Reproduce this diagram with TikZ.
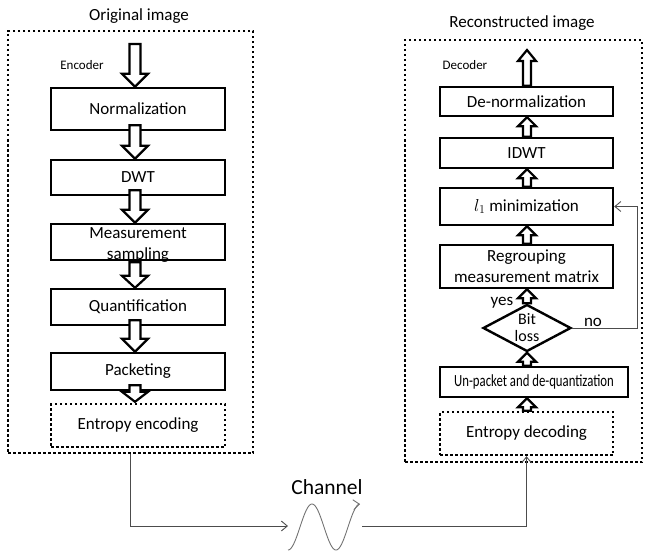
\documentclass[tikz,border=0pt]{standalone}
\usepackage{fontspec}
\setmainfont{Carlito}
\usetikzlibrary{calc,arrows.meta,shapes.geometric}
\newcommand{\downarr}[5]{%
  \draw[blockarr] let \p1=#1, \p2=#2 in
    (\x1-#3pt,\y1) -- (\x1-#3pt,\y2+#5pt) -- (\x1-#4pt,\y2+#5pt) -- (\x1,\y2)
    -- (\x1+#4pt,\y2+#5pt) -- (\x1+#3pt,\y2+#5pt) -- (\x1+#3pt,\y1) -- cycle;}
\newcommand{\uparr}[5]{%
  \draw[blockarr] let \p1=#1, \p2=#2 in
    (\x1-#3pt,\y1) -- (\x1-#3pt,\y2-#5pt) -- (\x1-#4pt,\y2-#5pt) -- (\x1,\y2)
    -- (\x1+#4pt,\y2-#5pt) -- (\x1+#3pt,\y2-#5pt) -- (\x1+#3pt,\y1) -- cycle;}
\tikzset{
  txt/.style={font=\fontsize{17}{20}\selectfont, inner sep=0pt},
  box/.style={draw, line width=2.4pt, inner sep=0pt, font=\fontsize{17}{20}\selectfont, align=center},
  dotbox/.style={draw, line width=2.4pt, dash pattern=on 2.5pt off 2.5pt, inner sep=0pt, font=\fontsize{17}{20}\selectfont},
  frame/.style={draw, line width=2.5pt, dash pattern=on 2.5pt off 2.5pt, inner sep=0pt},
  blockarr/.style={draw, line width=2.2pt, fill=white, line join=miter},
  conn/.style={draw=black!70, line width=0.9pt},
  tip/.style={-{Straight Barb[length=6pt,width=10pt]}},
}
\begin{document}
\begin{tikzpicture}[x=1pt,y=-1pt]
\useasboundingbox (0,0) rectangle (645,551);
% frames
\node[frame, minimum width=245pt, minimum height=422pt] (encframe) at (130.5,242) {};
\node[frame, minimum width=237pt, minimum height=422pt] (decframe) at (523.5,251) {};
\node[txt] (enctitle) at (139,16) {Original image};
\node[txt] (dectitle) at (522,23) {Reconstructed image};
\node[txt, font=\fontsize{13}{15}\selectfont] (enclabel) at (82,65) {Encoder};
\node[txt, font=\fontsize{13}{15}\selectfont] (declabel) at (465,65) {Decoder};
% encoder boxes
\node[box, minimum width=174pt, minimum height=42pt] (norm) at (138,109) {Normalization};
\node[box, minimum width=174pt, minimum height=35pt] (dwt) at (138,177.5) {DWT};
\node[box, minimum width=174pt, minimum height=36pt] (meas) at (138,242) {};
\node[box, minimum width=174pt, minimum height=36pt] (quant) at (138,307) {Quantification};
\node[box, minimum width=174pt, minimum height=37pt] (pack) at (138,371.5) {Packeting};
\node[dotbox, minimum width=174pt, minimum height=43pt] (entenc) at (138,425.5) {Entropy encoding};
\coordinate (enctop) at (135,44);
% encoder arrows
\downarr{(enctop)}{($(norm.north)+(-3,0)$)}{5.5}{13}{13}
\downarr{($(norm.south)+(-3,-6)$)}{($(dwt.north)+(-3,0)$)}{5.5}{13}{13}
\downarr{($(dwt.south)+(-3,-6)$)}{($(meas.north)+(-3,0)$)}{5.5}{13}{13}
\downarr{($(meas.south)+(-3,1)$)}{($(quant.north)+(-3,0)$)}{5.5}{13}{12}
\downarr{($(quant.south)+(-3,-6)$)}{($(pack.north)+(-3,0)$)}{5.5}{13}{13}
\downarr{($(pack.south)+(-3,-6)$)}{($(entenc.north)+(-3,-1)$)}{5.5}{13}{10}
\node[txt, align=center, font=\fontsize{17}{21}\selectfont] (meastext) at (138,245) {Measurement\\sampling};
% decoder boxes
\node[box, minimum width=173pt, minimum height=29pt] (denorm) at (526.5,101.5) {De-normalization};
\node[box, minimum width=173pt, minimum height=30pt] (idwt) at (526.5,153) {IDWT};
\node[box, minimum width=173pt, minimum height=37pt] (l1) at (526.5,206.5) {$l_1$ minimization};
\node[box, minimum width=173pt, minimum height=43pt, font=\fontsize{17}{21}\selectfont] (regroup) at (526.5,266.5) {Regrouping\\measurement matrix};
\node[diamond, draw, line width=2.4pt, inner sep=0pt, minimum width=88pt, minimum height=47pt] (bit) at (527,328) {};
\node[txt, align=center, font=\fontsize{16}{17}\selectfont] (bittext) at (bit) {Bit\\loss};
\node[box, minimum width=188pt, minimum height=30pt] (unpack) at (534,382) {\scalebox{0.75}[1]{Un-packet and de-quantization}};
\node[dotbox, minimum width=173pt, minimum height=43pt] (entdec) at (526.5,433.5) {Entropy decoding};
\coordinate (dectop) at (527,50);
% decoder arrows
\uparr{($(entdec.north)+(0.5,0)$)}{(unpack.south)}{4}{9}{9}
\uparr{(bit.south |- unpack.north)}{(bit.south)}{4}{9}{9}
\uparr{(bit.north)}{(regroup.south)}{4}{9}{9}
\uparr{($(regroup.north)+(0.5,0)$)}{(l1.south)}{4}{9}{9}
\uparr{($(l1.north)+(0.5,0)$)}{(idwt.south)}{4}{9}{9}
\uparr{($(idwt.north)+(0.5,0)$)}{(denorm.south)}{4}{9}{9}
\uparr{($(denorm.north)+(0.5,0)$)}{(dectop)}{4}{9}{11}
\node[txt] (yes) at (502,303) {yes};
\node[txt] (no) at (593,322) {no};
% feedback
\draw[conn, tip] (bit.east) -- ++(65,0) |- (l1.east);
% channel
\coordinate (chin) at (288,526);
\coordinate (chout) at (362,526);
\node[txt, font=\fontsize{21.5}{24}\selectfont] (chlabel) at (327,487) {Channel};
\draw[conn, tip] (encframe.south) |- (chin);
\draw[conn, tip] (chout) -| (entdec.south);
\draw[draw=black!55, line width=0.9pt, tip] plot[domain=288:360, samples=80, smooth] (\x,{527+23*cos(180*(\x-288)/24)});
\end{tikzpicture}
\end{document}
